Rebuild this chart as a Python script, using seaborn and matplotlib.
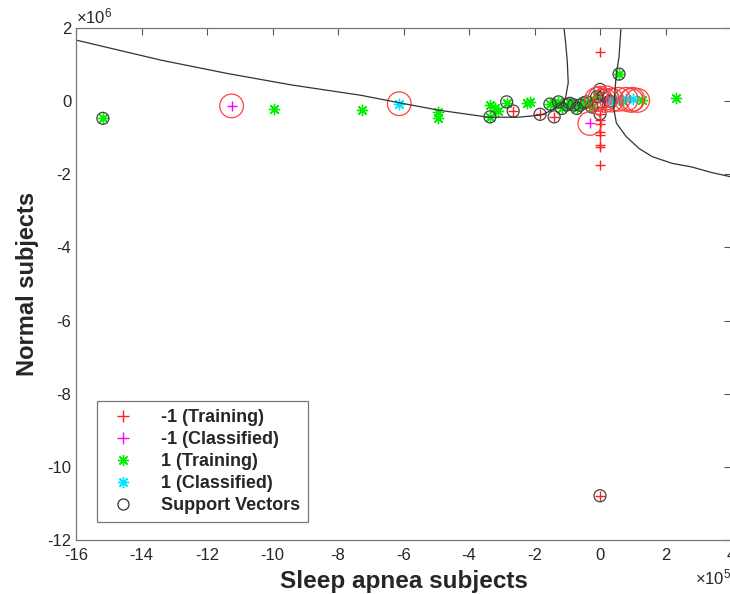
import numpy as np
import matplotlib
matplotlib.use('Agg')
import matplotlib.pyplot as plt
import seaborn as sns
from matplotlib.lines import Line2D
from matplotlib.ticker import ScalarFormatter

# values: x in units of 1e5, y in units of 1e6
train_neg_x = [0, 0, 0, 0, 0, 0, 0, 0, -2.65, -1.83, -1.4, 0, 0, 0.1, -0.05, 0.15, 0.3, -0.2, 0, 0.05]
train_neg_y = [1.35, -0.52, -0.84, -0.93, -1.2, -1.25, -1.75, -0.62, -0.27, -0.36, -0.43, -10.79, -0.35,
               0.1, 0.2, 0.0, 0.05, 0.0, 0.25, -0.15]

class_neg_x = [-11.25, -0.31, 0.0, 0.2, -0.1]
class_neg_y = [-0.13, -0.61, 0.08, 0.09, 0.05]

train_pos_x = [-15.18, -9.94, -7.26, -4.96, -4.96, -3.36, -3.2, -3.1, -2.85, -2.24, -2.14, -3.36,
               2.32, 0.58, -1.53, -1.27, -1.17, -0.92, -0.71, -0.61, -0.41, -0.25, -0.1, 1.27,
               -1.4, -1.0, -0.8, -0.5, -0.3, 0.45, 0.7]
train_pos_y = [-0.47, -0.22, -0.25, -0.29, -0.46, -0.11, -0.2, -0.28, -0.05, -0.04, -0.03, -0.43,
               0.09, 0.74, -0.08, -0.02, -0.2, -0.06, -0.2, -0.11, -0.02, -0.16, 0.12, 0.03,
               -0.05, -0.1, -0.1, -0.05, 0.0, 0.02, 0.0]

class_pos_x = [-6.13, 0.56, 0.8, 1.0, 0.35]
class_pos_y = [-0.07, 0.05, 0.05, 0.05, 0.03]

sv_x = [-15.18, -3.36, -2.65, -1.83, -1.4, 0.58, 0, -1.53, -1.27, -1.17, -0.92, -0.71, -0.61,
        -0.41, -0.25, -0.1, 0, 0, -0.05, 0.1, -1.0, -0.8, -0.5, 0.3, -2.85]
sv_y = [-0.47, -0.43, -0.27, -0.36, -0.43, 0.74, -10.79, -0.08, -0.02, -0.2, -0.06, -0.2, -0.11,
        -0.02, -0.16, 0.12, 0.32, -0.35, -0.1, 0.15, -0.1, -0.1, -0.05, 0.0, -0.02]

# red rings around classified points
ring_x = class_neg_x + class_pos_x + [0.15, 0.95, 1.15]
ring_y = class_neg_y + class_pos_y + [0.02, 0.02, 0.02]

# decision boundary (two branches)
left_x = [-16, -13.4, -11.4, -9.4, -7.3, -6.1, -4.9, -3.4, -2.5, -1.8, -1.4, -1.15, -1.05, -0.97, -1.0, -1.05, -1.1]
left_y = [1.67, 1.12, 0.76, 0.44, 0.16, -0.05, -0.25, -0.44, -0.44, -0.38, -0.22, -0.05, 0.1, 0.5, 1.1, 1.6, 2.0]
right_x = [0.64, 0.58, 0.5, 0.45, 0.42, 0.5, 0.8, 1.2, 1.6, 2.2, 2.8, 3.4, 4.0]
right_y = [2.0, 1.2, 0.76, 0.2, -0.2, -0.6, -0.97, -1.3, -1.52, -1.7, -1.8, -1.95, -2.07]

legend_labels = ['-1 (Training)', '-1 (Classified)', '1 (Training)', '1 (Classified)', 'Support Vectors']

sns.set_style('white')
plt.rcParams['font.family'] = ['Liberation Sans', 'DejaVu Sans']
plt.rcParams['mathtext.fontset'] = 'custom'
plt.rcParams['mathtext.rm'] = 'Liberation Sans'
plt.rcParams['axes.unicode_minus'] = False


class PlainTickFormatter(ScalarFormatter):
    # tick labels as plain text (hyphen minus), offset still as x10^n
    def __call__(self, x, pos=None):
        return '%g' % round(x / 10 ** self.orderOfMagnitude, 6)


XS, YS = 1e5, 1e6
sx = lambda v: np.array(v) * XS
sy = lambda v: np.array(v) * YS

fig = plt.figure(figsize=(7.3, 5.94), dpi=100)
ax = fig.add_axes([76 / 730, 1 - 540 / 594, 655 / 730, 512 / 594])

star = (8, 2, 0)
sns.lineplot(x=sx(left_x), y=sy(left_y), sort=False, estimator=None, color='#333333', lw=0.9, ax=ax)
sns.lineplot(x=sx(right_x), y=sy(right_y), sort=False, estimator=None, color='#333333', lw=0.9, ax=ax)

sns.scatterplot(x=sx(train_neg_x), y=sy(train_neg_y), marker='+', s=60, color='#ff2020', linewidth=1, ax=ax)
sns.scatterplot(x=sx(class_neg_x), y=sy(class_neg_y), marker='+', s=60, color='#ff00ff', linewidth=1, ax=ax)
sns.scatterplot(x=sx(train_pos_x), y=sy(train_pos_y), marker=star, s=55, color='#00ee00', linewidth=1, ax=ax)
sns.scatterplot(x=sx(class_pos_x), y=sy(class_pos_y), marker=star, s=55, color='#00e5ff', linewidth=1, ax=ax)
sns.scatterplot(x=sx(sv_x), y=sy(sv_y), marker='o', s=75, color='k', facecolor='none', edgecolor='#444444',
                linewidth=0.9, ax=ax)
sns.scatterplot(x=sx(ring_x), y=sy(ring_y), marker='o', s=290, color='red', facecolor='none', edgecolor='#ff4040',
                linewidth=0.9, ax=ax)

ax.set_xlim(-16 * XS, 4 * XS)
ax.set_ylim(-12 * YS, 2 * YS)
ax.set_xticks(np.arange(-16, 5, 2) * XS)
ax.set_yticks(np.arange(-12, 3, 2) * YS)
for axis, p in ((ax.xaxis, 5), (ax.yaxis, 6)):
    fmt = PlainTickFormatter(useMathText=True)
    fmt.set_powerlimits((p, p))
    axis.set_major_formatter(fmt)
    axis.get_offset_text().set_fontsize(12)
    axis.get_offset_text().set_color('#333333')

ax.tick_params(direction='in', length=5, width=0.8, colors='#555555', labelcolor='#262626',
               labelsize=12, top=True, right=True)
ax.tick_params(axis='x', pad=6)
for sp in ax.spines.values():
    sp.set_color('#777777')
    sp.set_linewidth(0.9)

ax.set_xlabel('Sleep apnea subjects', fontsize=17.5, fontweight='bold', labelpad=5)
ax.set_ylabel('Normal subjects', fontsize=17, fontweight='bold', labelpad=5.5)

handles = [
    Line2D([], [], ls='none', marker='+', color='#ff2020', markersize=8, mew=1),
    Line2D([], [], ls='none', marker='+', color='#ff00ff', markersize=8, mew=1),
    Line2D([], [], ls='none', marker=star, color='#00ee00', markersize=8, mew=1),
    Line2D([], [], ls='none', marker=star, color='#00e5ff', markersize=8, mew=1),
    Line2D([], [], ls='none', marker='o', color='#333333', mfc='none', markersize=8, mew=0.9),
]
leg = ax.legend(handles, legend_labels, loc='lower left', bbox_to_anchor=(0.032, 0.035), borderaxespad=0,
                prop={'weight': 'bold', 'size': 13}, frameon=True, fancybox=False, handlelength=2.0,
                handletextpad=1.1, labelspacing=0.27, borderpad=0.45)
leg.get_frame().set_edgecolor('#555555')
leg.get_frame().set_linewidth(0.9)

fig.savefig('out.png', dpi=100)
